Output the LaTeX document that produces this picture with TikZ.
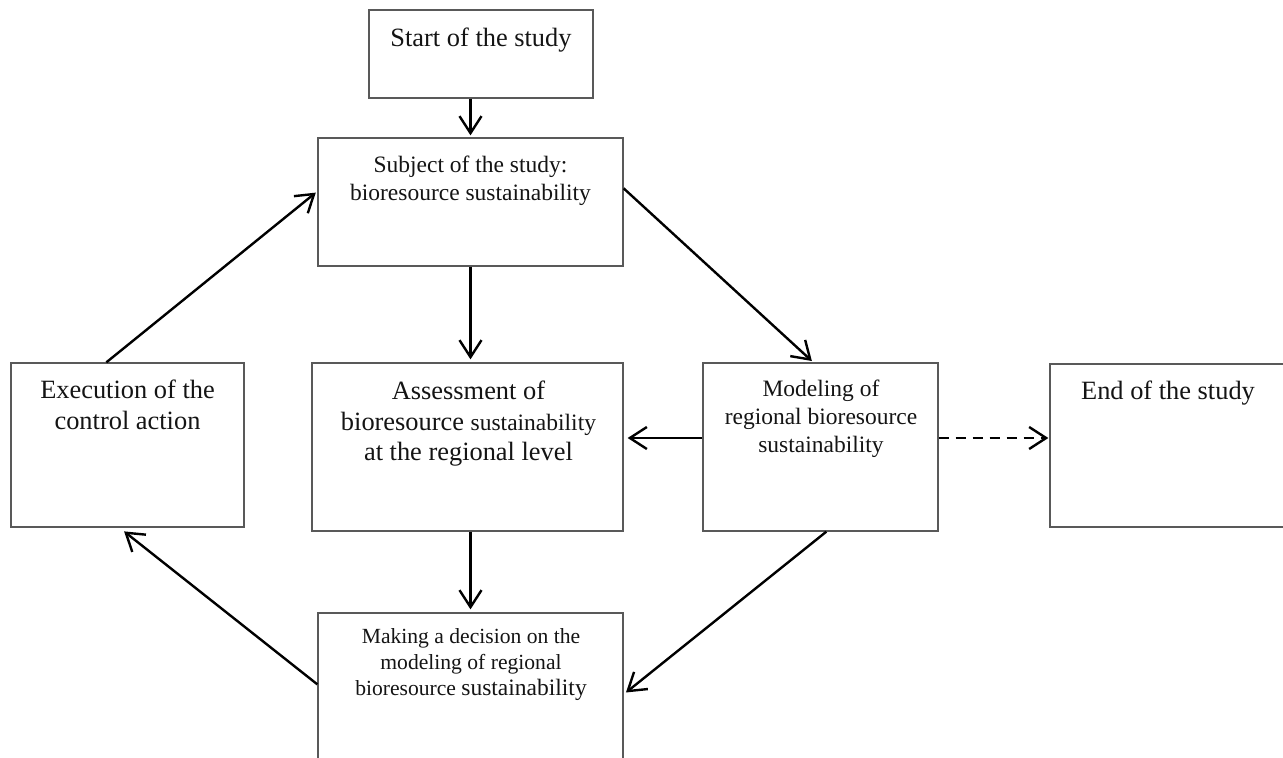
\documentclass[tikz,border=0pt]{standalone}
\usepackage{fontspec}
\setmainfont{Liberation Serif}
\usetikzlibrary{arrows.meta,calc}
\begin{document}
\begin{tikzpicture}[x=1pt,y=-1pt,
  box/.style={draw=black!65, line width=1.3pt, rectangle, inner sep=0pt},
  txt/.style={align=center, inner sep=0pt, anchor=north, text=black!92},
  big/.style={font=\fontsize{26.4}{30.5}\selectfont},
  mid/.style={font=\fontsize{23.5}{28}\selectfont},
  sml/.style={font=\fontsize{21.6}{26}\selectfont},
  arr/.style={line width=2.4pt, -{Straight Barb[length=17pt,width=22pt,line width=2.4pt]}},
  dasharr/.style={arr, dash pattern=on 10pt off 7pt}
]
\clip (0,0) rectangle (1283,758);
% boxes
\node[box, minimum width=224pt, minimum height=88pt]  (start)  at (481,54) {};
\node[box, minimum width=305pt, minimum height=128pt] (subj)   at (470.5,202) {};
\node[box, minimum width=233pt, minimum height=164pt] (exec)   at (127.5,445) {};
\node[box, minimum width=311pt, minimum height=168pt] (assess) at (467.5,447) {};
\node[box, minimum width=235pt, minimum height=168pt] (model)  at (820.5,447) {};
\node[box, minimum width=236pt, minimum height=163pt] (end)    at (1168,445.5) {};
\node[box, minimum width=305pt, minimum height=187pt] (make)   at (470.5,706.5) {};
% texts
\node[txt, big] (startT)  at (481,27.8) {Start of the study};
\node[txt, mid] (subjT)   at (470.5,155.8) {Subject of the study:\\bioresource sustainability};
\node[txt, big] (execT)   at (127.5,379.8) {Execution of the\\control action};
\node[txt, big] (assessT) at (468.5,380.8) {Assessment of\\bioresource {\fontsize{23.5}{30.5}\selectfont sustainability}\\at the regional level};
\node[txt, mid] (modelT)  at (821,379.8) {Modeling of\\regional bioresource\\sustainability};
\node[txt, big] (endT)    at (1168,380.8) {End of the study};
\node[txt, sml] (makeT)   at (471,628.1) {Making a decision on the\\modeling of regional\\bioresource {\fontsize{23.5}{26}\selectfont sustainability}};
% connectors
\draw[arr, shorten >=2pt] (subj.north |- start.south) -- (subj.north);
\draw[arr, shorten >=3pt] (subj.south) -- (subj.south |- assess.north);
\draw[arr, shorten >=3pt] (make.north |- assess.south) -- (make.north);
\draw[arr, shorten >=4pt] ([yshift=9pt]model.west) -- ([yshift=9pt]model.west -| assess.east);
\draw[dasharr, shorten >=1pt] ([yshift=9pt]model.east) -- ([yshift=9pt]model.east -| end.west);
\draw[arr, shorten >=2pt] ($(exec.north west)+(96,0)$) -- ($(subj.north west)+(0,54)$);
\draw[arr, shorten >=2pt] ($(subj.north east)+(0,51)$) -- ($(model.north west)+(111,0)$);
\draw[arr, shorten >=3pt] ($(model.south west)+(124,0)$) -- ($(make.north east)+(0,82)$);
\draw[arr, shorten >=6pt] ($(make.north west)+(0,72)$) -- ($(exec.south west)+(109,0)$);
\end{tikzpicture}
\end{document}
